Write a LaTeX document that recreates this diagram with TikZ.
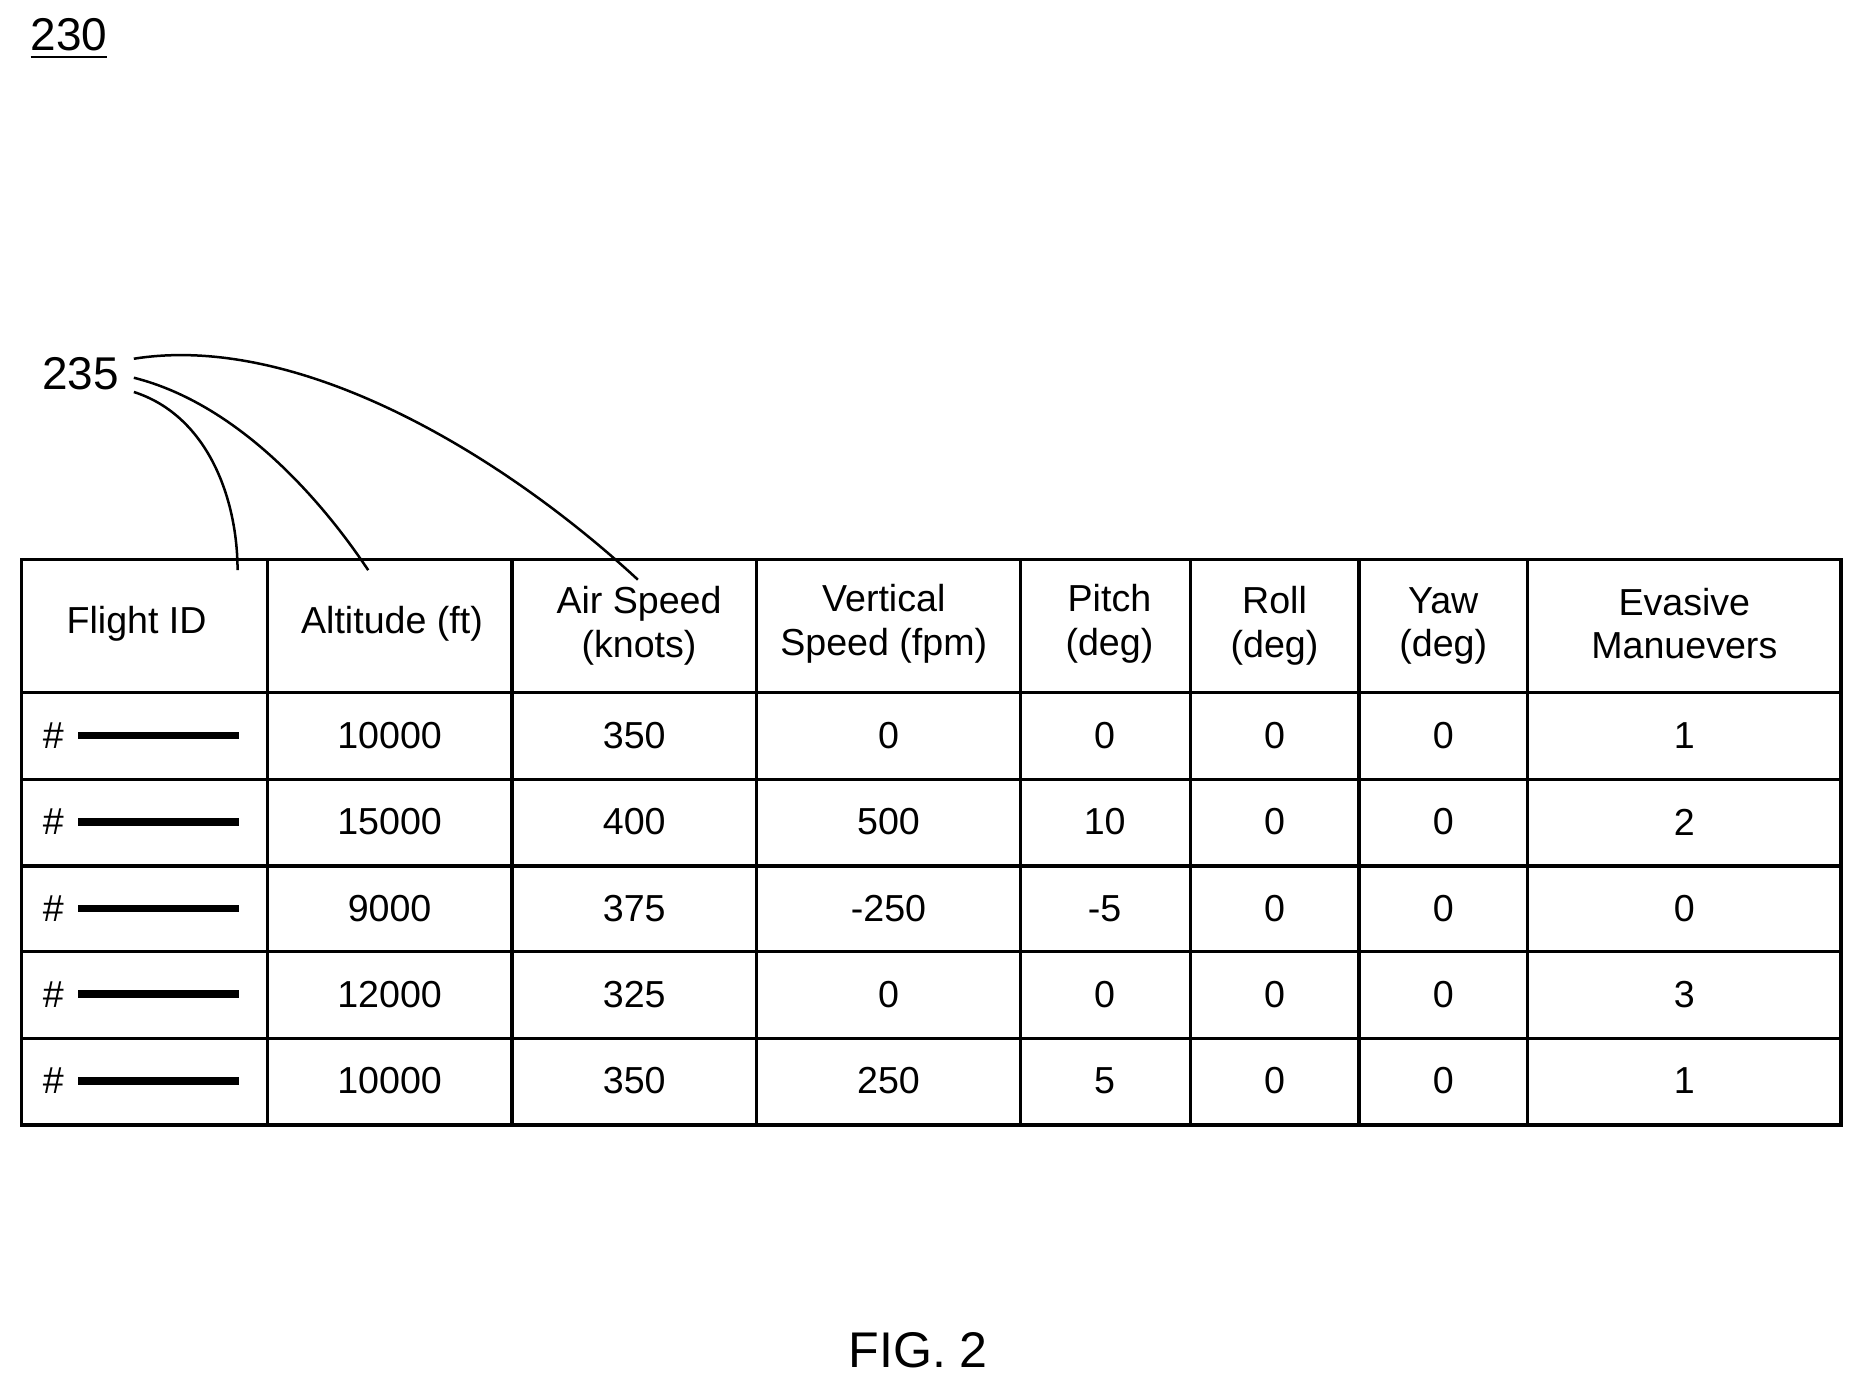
\documentclass[tikz,border=0pt]{standalone}
\usepackage{fontspec}
\setmainfont{Liberation Sans}
\usetikzlibrary{calc}
\tikzset{
  cell/.style={font=\fontsize{9}{10.5}\selectfont, align=center},
  rule/.style={line width=0.8pt},
  lead/.style={line width=0.6pt}
}
\begin{document}
\begin{tikzpicture}[x=0.01cm,y=-0.01cm]
\useasboundingbox (0,0) rectangle (1560,1163);
\node[font=\fontsize{11}{13}\selectfont] (fig) at (58,33) {\underline{230}};
\node[font=\fontsize{11}{13}\selectfont] (ref) at (68,315) {235};
% table grid
\draw[rule] (18,471) rectangle (1550,947);
\foreach \x in {225,431,637,859,1002,1144,1286}{
	\draw[rule] (\x,471) -- (\x,947);
	}
\foreach \y in {583,656,729,801,874}{
	\draw[rule] (18,\y) -- (1550,\y);
	}
% header
\node[cell] (h1) at (115,525) {Flight ID};
\node[cell] (h2) at (330,525) {Altitude (ft)};
\node[cell] (h3) at (538,527) {Air Speed\\(knots)};
\node[cell] (h4) at (744,525) {Vertical\\Speed (fpm)};
\node[cell] (h5) at (934,525) {Pitch\\(deg)};
\node[cell] (h6) at (1073,527) {Roll\\(deg)};
\node[cell] (h7) at (1215,527) {Yaw\\(deg)};
\node[cell] (h8) at (1418,525) {Evasive\\Manuevers};
% rows
\foreach \y/\a/\b/\c/\d/\e in {619/10000/350/0/0/1, 692/15000/400/500/10/2, 765/9000/375/-250/-5/0, 837/12000/325/0/0/3, 910/10000/350/250/5/1}{
	\node[cell] at (45,\y) {\#};
	\draw[line width=1.8pt] (66,\y) -- (201,\y);
	\node[cell] at (328,\y) {\a};
	\node[cell] at (534,\y) {\b};
	\node[cell] at (748,\y) {\c};
	\node[cell] at (930,\y) {\d};
	\node[cell] at (1073,\y) {0};
	\node[cell] at (1215,\y) {0};
	\node[cell] at (1418,\y) {\e};
	}
% leaders
\coordinate (t1) at (200,480); \coordinate (t2) at (310,480); \coordinate (t3) at (537,488);
\draw[lead] (ref.east) ++(0,15) .. controls (175,350) and (200,420) .. (t1);
\draw[lead] (ref.east) ++(0,3) .. controls (200,340) and (270,420) .. (t2);
\draw[lead] (ref.east) ++(0,-13) .. controls (250,280) and (420,380) .. (t3);
\node[font=\fontsize{12}{14}\selectfont] (cap) at (773,1137) {FIG. 2};
\end{tikzpicture}
\end{document}
